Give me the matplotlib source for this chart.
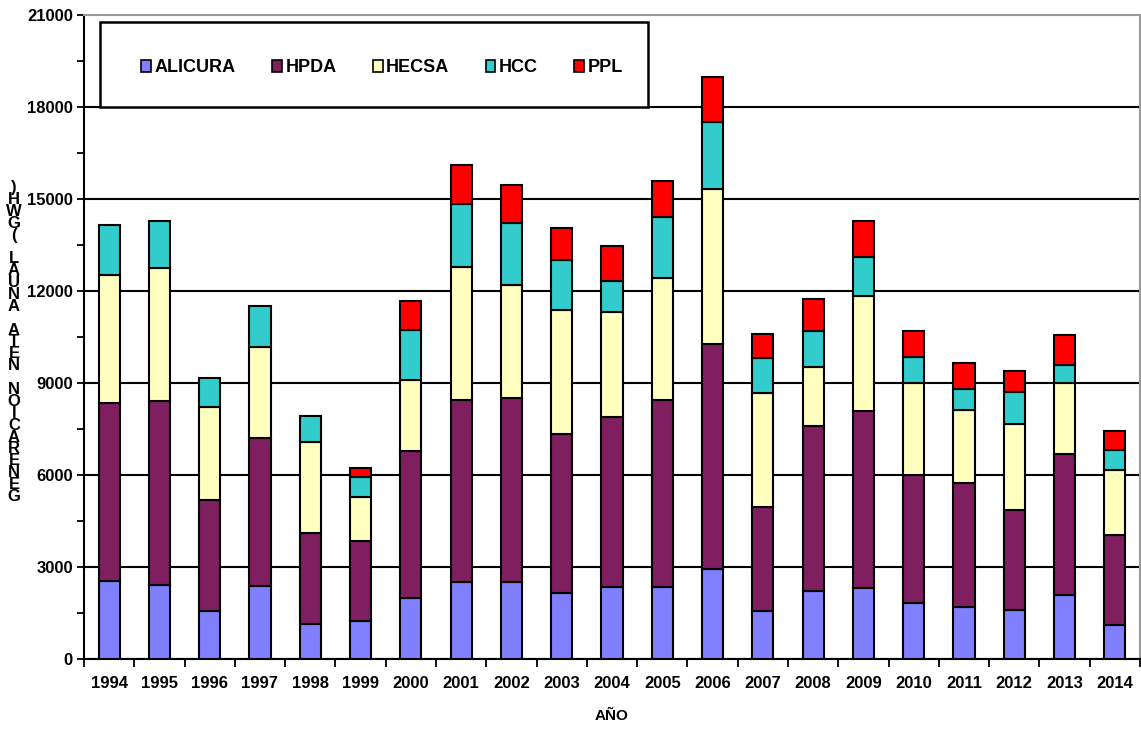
import matplotlib
matplotlib.use("Agg")
import matplotlib.pyplot as plt
from matplotlib.patches import Patch, Rectangle
import numpy as np

plt.rcParams['font.family'] = ['Liberation Sans', 'DejaVu Sans']
plt.rcParams['font.weight'] = 'bold'

# Data (GWh per year)
years = ['1994', '1995', '1996', '1997', '1998', '1999', '2000', '2001', '2002', '2003', '2004',
         '2005', '2006', '2007', '2008', '2009', '2010', '2011', '2012', '2013', '2014']
alicura = [2550, 2425, 1550, 2375, 1150, 1240, 1975, 2525, 2525, 2150, 2340,
           2340, 2925, 1575, 2210, 2300, 1825, 1690, 1600, 2090, 1125]
hpda = [5800, 5975, 3640, 4835, 2975, 2600, 4815, 5935, 6000, 5190, 5560,
        6120, 7350, 3385, 5380, 5775, 4175, 4050, 3275, 4585, 2925]
hecsa = [4185, 4350, 3035, 2950, 2935, 1450, 2310, 4315, 3685, 4035, 3425,
         3965, 5035, 3730, 1935, 3765, 2990, 2370, 2800, 2315, 2100]
hcc = [1625, 1540, 925, 1365, 850, 650, 1625, 2065, 2000, 1625, 985,
       1975, 2200, 1120, 1165, 1270, 860, 680, 1035, 600, 650]
ppl = [0, 0, 0, 0, 0, 285, 965, 1270, 1250, 1050, 1165,
       1190, 1465, 780, 1060, 1165, 850, 860, 690, 960, 625]

series = [('ALICURA', alicura, '#8080FF'),
          ('HPDA', hpda, '#7F1F5F'),
          ('HECSA', hecsa, '#FFFFC0'),
          ('HCC', hcc, '#33CCCC'),
          ('PPL', ppl, '#FF0000')]

fig = plt.figure(figsize=(11.41, 7.29), dpi=100)
ax = fig.add_axes([84 / 1141, 1 - 659 / 729, 1056 / 1141, 644 / 729])

x = np.arange(len(years))
bottom = np.zeros(len(years))
for name, vals, col in series:
    vals = np.array(vals, dtype=float)
    mask = vals > 0
    ax.bar(x[mask], vals[mask], width=0.42, bottom=bottom[mask], color=col,
           edgecolor='black', linewidth=1.5, zorder=3)
    bottom += vals

ax.set_xlim(-0.5, len(years) - 0.5)
ax.set_ylim(0, 21000)

# y axis
ax.set_yticks(np.arange(0, 21001, 3000))
ax.set_yticks(np.arange(0, 21001, 1500), minor=True)
ax.tick_params(axis='y', which='both', direction='out', length=5, width=1.3,
               labelsize=12, pad=3)
ax.grid(axis='y', color='black', linewidth=1.5, zorder=1)
ax.get_ygridlines()[-1].set_visible(False)

# x axis
ax.set_xticks(x)
ax.set_xticklabels(years)
ax.set_xticks(np.arange(-0.5, len(years), 1), minor=True)
ax.tick_params(axis='x', which='major', length=0, labelsize=12, pad=12)
ax.tick_params(axis='x', which='minor', direction='out', length=6, width=1.3)
for lab in ax.get_xticklabels() + ax.get_yticklabels():
    lab.set_fontweight('bold')

ax.set_xlabel('AÑO', fontsize=11, fontweight='bold', labelpad=13)

for side in ['left', 'bottom']:
    ax.spines[side].set_color('black')
    ax.spines[side].set_linewidth(1.5)
for side in ['top', 'right']:
    ax.spines[side].set_color('#999999')
    ax.spines[side].set_linewidth(1.5)

# stacked y label
ylabel = 'GENERACION NETA ANUAL (GWH)'
fig.text(14 / 1141, 1 - 342 / 729, '\n'.join(ylabel[::-1]), ha='center', va='center',
         fontsize=12, fontweight='bold', linespacing=0.74)

# legend box
fig.patches.append(Rectangle((100 / 1141, 1 - 107 / 729), 548 / 1141, 85 / 729,
                             transform=fig.transFigure, facecolor='white',
                             edgecolor='black', linewidth=1.8, zorder=5))
handles = [Patch(facecolor=c, edgecolor='black', linewidth=1.2) for _, _, c in series]
leg = fig.legend(handles, [s[0] for s in series], loc='center',
                 bbox_to_anchor=(382 / 1141, 1 - 68 / 729), ncol=5, frameon=False,
                 handlelength=0.55, handleheight=0.6, handletextpad=0.2,
                 columnspacing=2.0, prop={'size': 13, 'weight': 'bold'})
leg.set_zorder(6)

fig.savefig('out.png', dpi=100)
